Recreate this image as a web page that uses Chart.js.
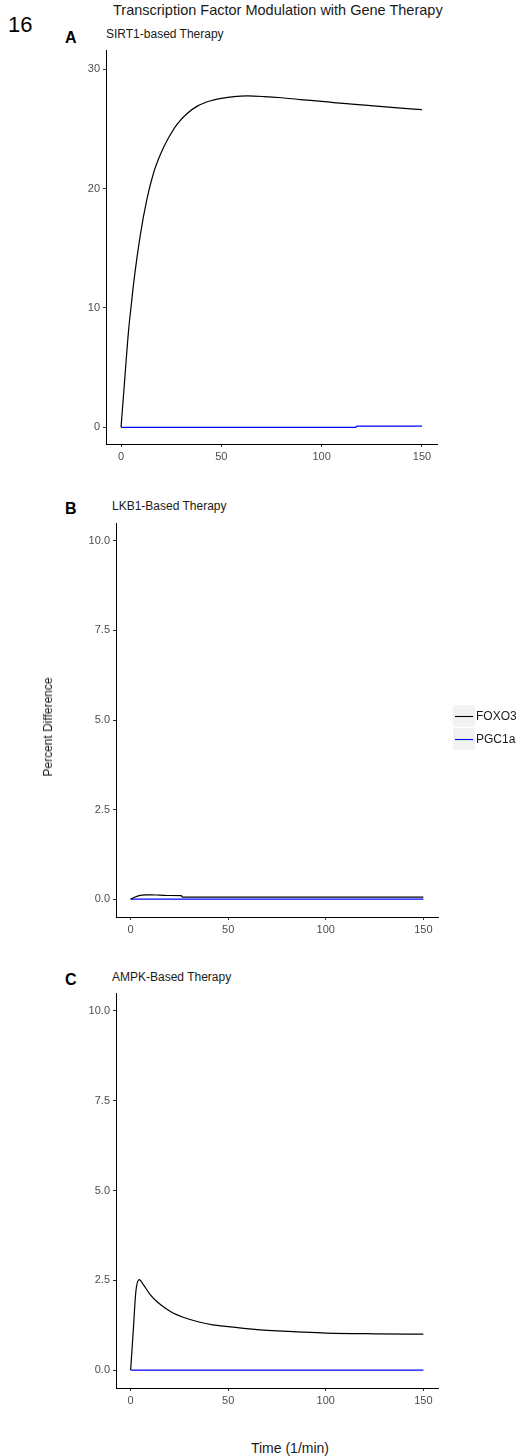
<!DOCTYPE html>
<html>
<head>
<meta charset="utf-8">
<script src="https://cdn.jsdelivr.net/npm/chart.js@4/dist/chart.umd.min.js"></script>
<style>
  body { margin: 0; background: #fff; }
  #page { position: relative; width: 516px; height: 1456px; font-family: "Liberation Sans", Arial, sans-serif; color: #000; }
  #page canvas { position: absolute; left: 0; }
  .txt { position: absolute; white-space: nowrap; line-height: 1; }
  .key { position: absolute; left: 453px; width: 22px; height: 22px; background: #f2f2f2; }
  #legendKeys { position: absolute; left: 453px; top: 705px; }
</style>
</head>
<body>
<div id="page">
  <div class="txt" style="left:8px; top:14px; font-size:22px;">16</div>
  <div class="txt" style="left:113px; top:3px; font-size:14.5px; color:#1a1a1a;">Transcription Factor Modulation with Gene Therapy</div>

  <div class="txt" style="left:65px; top:30px; font-size:16px; font-weight:bold;">A</div>
  <div class="txt" style="left:106px; top:28px; font-size:12px; color:#1a1a1a;">SIRT1-based Therapy</div>
  <canvas id="chartA" width="516" height="440" style="top:40px;"></canvas>

  <div class="txt" style="left:65px; top:501px; font-size:16px; font-weight:bold;">B</div>
  <div class="txt" style="left:112px; top:500px; font-size:12px; color:#1a1a1a;">LKB1-Based Therapy</div>
  <canvas id="chartB" width="516" height="440" style="top:512px;"></canvas>

  <div class="txt" style="left:65px; top:972px; font-size:16px; font-weight:bold;">C</div>
  <div class="txt" style="left:112px; top:971px; font-size:12px; color:#1a1a1a;">AMPK-Based Therapy</div>
  <canvas id="chartC" width="516" height="441" style="top:983px;"></canvas>

  <div class="txt" style="left:48px; top:727px; font-size:12px; color:#1a1a1a; transform: translate(-50%, -50%) rotate(-90deg);">Percent Difference</div>
  <div class="txt" style="left:290px; top:1448px; font-size:14px; color:#1a1a1a; transform: translate(-50%, -50%);">Time (1/min)</div>

  <svg id="legendKeys" width="23" height="46">
    <rect x="0" y="0" width="22" height="22" fill="#f2f2f2"></rect>
    <rect x="0" y="23" width="22" height="22" fill="#f2f2f2"></rect>
    <line x1="2" y1="11.5" x2="20" y2="11.5" stroke="#000000" stroke-width="1.1"></line>
    <line x1="2" y1="34.5" x2="20" y2="34.5" stroke="#0000ff" stroke-width="1.1"></line>
  </svg>
  <div class="txt" style="left:476px; top:710px; font-size:12px; color:#1a1a1a;">FOXO3</div>
  <div class="txt" style="left:476px; top:733px; font-size:12px; color:#1a1a1a;">PGC1a</div>
</div>

<script>
// tick labels
const timeTicks = [0, 50, 100, 150];
const yTicksA = [0, 10, 20, 30];
const yTicksBC = [0, 2.5, 5, 7.5, 10];

// Panel A - SIRT1-based therapy
const timeA_foxo3 = [0, 1.6, 3.8, 5, 6.3, 9.6, 12.9, 16.2, 20, 23.2, 28, 33.1, 38, 44.7, 50, 56.3, 63, 71.2, 80, 89.4, 100, 106, 115, 127.5, 138, 150];
const foxo3A = [0, 3.5, 8.2, 10.1, 12.1, 16.1, 19.1, 21.3, 23.0, 24.1, 25.4, 26.3, 26.9, 27.35, 27.55, 27.7, 27.75, 27.7, 27.6, 27.45, 27.3, 27.2, 27.07, 26.9, 26.75, 26.6];
const timeA_pgc1a = [0, 117, 117.5, 150];
const pgc1aA = [0, 0, 0.1, 0.1];

// Panel B - LKB1-based therapy
const timeB_foxo3 = [0, 2, 4, 6, 8, 10, 15, 20, 26, 26.5, 50, 100, 150];
const foxo3B = [0, 0.05, 0.09, 0.11, 0.12, 0.12, 0.11, 0.1, 0.095, 0.055, 0.055, 0.055, 0.055];
const timeB_pgc1a = [0, 150];
const pgc1aB = [0, 0];

// Panel C - AMPK-based therapy
const timeC_foxo3 = [0, 1.35, 2.7, 4.4, 6.5, 9.9, 14, 18.4, 22, 26.9, 35.5, 42, 50, 58, 66.2, 75, 83.2, 100.3, 125.9, 150];
const foxo3C = [0, 1.1, 2.2, 2.52, 2.38, 2.11, 1.88, 1.70, 1.58, 1.47, 1.33, 1.26, 1.21, 1.16, 1.12, 1.09, 1.07, 1.03, 1.01, 1.0];
const timeC_pgc1a = [0, 150];
const pgc1aC = [0, 0];

function toPoints(xs, ys) {
    return xs.map(function (x, i) { return { x: x, y: ys[i] }; });
}

function makeChart(id, cfg) {
    const ctx = document.getElementById(id).getContext('2d');
    return new Chart(ctx, {
        type: 'line',
        data: {
            datasets: [
                {
                    label: 'FOXO3',
                    data: toPoints(cfg.foxoX, cfg.foxoY),
                    borderColor: '#000000',
                    borderWidth: 1.2,
                    pointRadius: 0,
                    cubicInterpolationMode: 'monotone'
                },
                {
                    label: 'PGC1a',
                    data: toPoints(cfg.pgcX, cfg.pgcY),
                    borderColor: '#0000ff',
                    borderWidth: 1.2,
                    pointRadius: 0,
                    tension: 0
                }
            ]
        },
        options: {
            responsive: false,
            animation: false,
            devicePixelRatio: 1,
            layout: { autoPadding: false, padding: { left: 0, top: cfg.top, right: cfg.right, bottom: 0 } },
            plugins: { legend: { display: false }, tooltip: { enabled: false } },
            scales: {
                x: {
                    type: 'linear',
                    min: -7.5,
                    max: 157.5,
                    afterBuildTicks: function (s) { s.ticks = timeTicks.map(function (v) { return { value: v }; }); },
                    afterFit: function (s) { s.height = cfg.xHeight; },
                    grid: { drawOnChartArea: false, drawTicks: true, tickLength: 3, color: '#333333' },
                    border: { color: '#000000', width: 1 },
                    ticks: { color: '#4d4d4d', font: { family: 'Liberation Sans', size: 11 }, padding: 3, maxRotation: 0 }
                },
                y: {
                    type: 'linear',
                    min: cfg.yMin,
                    max: cfg.yMax,
                    afterBuildTicks: function (s) { s.ticks = cfg.yTicks.map(function (v) { return { value: v }; }); },
                    afterFit: function (s) { s.width = cfg.yWidth; },
                    grid: { drawOnChartArea: false, drawTicks: true, tickLength: 3, color: '#333333' },
                    border: { color: '#000000', width: 1 },
                    ticks: {
                        color: '#4d4d4d',
                        font: { family: 'Liberation Sans', size: 11 },
                        padding: 3,
                        callback: function (v) { return cfg.decimals ? Number(v).toFixed(1) : String(v); }
                    }
                }
            }
        }
    });
}

makeChart('chartA', {
    foxoX: timeA_foxo3, foxoY: foxo3A, pgcX: timeA_pgc1a, pgcY: pgc1aA,
    yMin: -1.4, yMax: 31.6, yTicks: yTicksA, decimals: false,
    top: 10, right: 79, xHeight: 36, yWidth: 106
});
makeChart('chartB', {
    foxoX: timeB_foxo3, foxoY: foxo3B, pgcX: timeB_pgc1a, pgcY: pgc1aB,
    yMin: -0.5, yMax: 10.5, yTicks: yTicksBC, decimals: true,
    top: 11, right: 78, xHeight: 35, yWidth: 116
});
makeChart('chartC', {
    foxoX: timeC_foxo3, foxoY: foxo3C, pgcX: timeC_pgc1a, pgcY: pgc1aC,
    yMin: -0.5, yMax: 10.5, yTicks: yTicksBC, decimals: true,
    top: 10, right: 78, xHeight: 36, yWidth: 116
});
</script>
</body>
</html>
